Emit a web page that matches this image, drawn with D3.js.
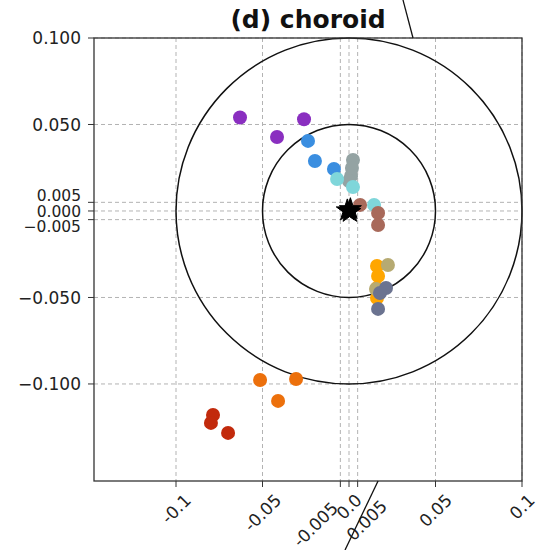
<!DOCTYPE html>
<html>
<head>
<meta charset="utf-8">
<script src="https://cdn.jsdelivr.net/npm/d3@7"></script>
<style>
  html, body { margin: 0; padding: 0; background: #fff; }
  svg { display: block; font-family: "DejaVu Sans", sans-serif; }
</style>
</head>
<body>
<div id="chart"></div>
<script>
// --- data ---
const title = '(d) choroid';
const xTicks = [-0.1, -0.05, -0.005, 0.0, 0.005, 0.05, 0.1];
const xTickLabels = ['-0.1', '-0.05', '-0.005', '0.0', '0.005', '0.05', '0.1'];
const yTicks = [0.1, 0.05, 0.005, 0.0, -0.005, -0.05, -0.1];
const yTickLabels = ['0.100', '0.050', '0.005', '0.000', '\u22120.005', '\u22120.050', '\u22120.100'];
const circleRadii = [0.05, 0.1];

// groups drawn in this order, later ones on top
const groupNames = ['purple', 'blue', 'gray', 'teal', 'brown', 'orange', 'khaki', 'slate', 'orangered', 'darkred'];
const groupColors = ['#8a2fc0', '#3a8ee0', '#94a3a3', '#7fd6da', '#a8695a', '#ffa600', '#b6aa72', '#6b7390', '#ec700c', '#c22a0c'];
const groupX = [
  [-0.063, -0.0416, -0.026],
  [-0.0237, -0.0197, -0.0087],
  [0.0023, 0.0017, 0.0012, 0.0],
  [-0.0069, 0.0023, 0.0145],
  [0.0064, 0.0168, 0.0168],
  [0.0162, 0.0168, 0.0162, 0.0162],
  [0.0225, 0.0156],
  [0.0214, 0.0179, 0.0168],
  [-0.0514, -0.0306, -0.041],
  [-0.0786, -0.0798, -0.0699]
];
const groupY = [
  [0.054, 0.0428, 0.053],
  [0.0405, 0.0289, 0.0243],
  [0.0295, 0.0249, 0.0202, 0.0173],
  [0.0185, 0.0139, 0.0035],
  [0.0035, -0.0012, -0.0081],
  [-0.0318, -0.0376, -0.0445, -0.0503],
  [-0.0312, -0.0451],
  [-0.0445, -0.0474, -0.0566],
  [-0.0977, -0.0971, -0.1098],
  [-0.1179, -0.1225, -0.1283]
];
const starX = [-0.001, 0.0008, 0.0005];
const starY = [0.0003, 0.001, -0.0006];
// stray lines from neighbouring panels (data coords)
const strayLines = [
  [[0.037, 0.1], [0.0312, 0.122]],
  [[0.0168, -0.1561], [-0.0023, -0.196]]
];

// --- layout ---
const width = 543, height = 550;
const plot = { left: 94, right: 522, top: 38, bottom: 481 };
// small nudges so the crowded labels near zero stay readable (px)
const yLabelShift = { '0.005': -7, '0': 0, '-0.005': 7 };
const yLabelSmall = ['0.005', '0', '-0.005'];
const xLabelShift = { '-0.005': [-25, 8], '0.005': [9, 6] };

const svg = d3.select('#chart').append('svg')
  .attr('width', width)
  .attr('height', height);

const x = d3.scaleLinear().domain([-0.1474, 0.1]).range([plot.left, plot.right]);
const y = d3.scaleLinear().domain([-0.1561, 0.1]).range([plot.bottom, plot.top]);

// grid
const grid = svg.append('g').attr('class', 'grid')
  .attr('stroke', '#b3b3b3').attr('stroke-width', 1).attr('stroke-dasharray', '4,3');
grid.selectAll('line.gx').data(xTicks).join('line')
  .attr('x1', d => x(d)).attr('x2', d => x(d))
  .attr('y1', plot.top).attr('y2', plot.bottom);
grid.selectAll('line.gy').data(yTicks).join('line')
  .attr('class', 'gy')
  .attr('x1', plot.left).attr('x2', plot.right)
  .attr('y1', d => y(d)).attr('y2', d => y(d));

// reference circles
svg.append('g').selectAll('circle').data(circleRadii).join('circle')
  .attr('cx', x(0)).attr('cy', y(0))
  .attr('r', d => x(d) - x(0))
  .attr('fill', 'none').attr('stroke', '#111').attr('stroke-width', 1.5);

// points
const pts = svg.append('g').attr('class', 'points');
groupNames.forEach((name, gi) => {
  const data = groupX[gi].map((v, i) => ({ x: v, y: groupY[gi][i] }));
  pts.append('g').attr('class', name).selectAll('circle').data(data).join('circle')
    .attr('cx', d => x(d.x)).attr('cy', d => y(d.y))
    .attr('r', 7)
    .attr('fill', groupColors[gi]);
});

// stars
const star = d3.symbol().type(d3.symbolStar).size(150);
svg.append('g').selectAll('path').data(starX.map((v, i) => [v, starY[i]])).join('path')
  .attr('d', star)
  .attr('transform', d => `translate(${x(d[0])},${y(d[1])})`)
  .attr('fill', '#000').attr('stroke', '#000').attr('stroke-width', 1);

// frame
svg.append('rect')
  .attr('x', plot.left).attr('y', plot.top)
  .attr('width', plot.right - plot.left).attr('height', plot.bottom - plot.top)
  .attr('fill', 'none').attr('stroke', '#333').attr('stroke-width', 1.3);

// y axis
const yAxis = svg.append('g');
yAxis.selectAll('line').data(yTicks).join('line')
  .attr('x1', plot.left - 6).attr('x2', plot.left)
  .attr('y1', d => y(d)).attr('y2', d => y(d))
  .attr('stroke', '#333').attr('stroke-width', 1);
yAxis.selectAll('text').data(yTicks).join('text')
  .attr('x', plot.left - 13)
  .attr('y', d => y(d) + (yLabelShift[String(d)] || 0))
  .attr('dy', '0.36em')
  .attr('text-anchor', 'end')
  .attr('font-size', d => yLabelSmall.includes(String(d)) ? 15.5 : 17)
  .attr('fill', '#222')
  .text((d, i) => yTickLabels[i]);

// x axis, labels rotated 45deg and centred on the tick
const xAxis = svg.append('g');
xAxis.selectAll('line').data(xTicks).join('line')
  .attr('x1', d => x(d)).attr('x2', d => x(d))
  .attr('y1', plot.bottom).attr('y2', plot.bottom + 6)
  .attr('stroke', '#333').attr('stroke-width', 1);
xAxis.selectAll('text').data(xTicks).join('text')
  .attr('text-anchor', 'middle')
  .attr('dy', '0.36em')
  .attr('font-size', 17)
  .attr('fill', '#222')
  .text((d, i) => xTickLabels[i])
  .each(function(d, i) {
    const w = this.getComputedTextLength();
    const half = (w + 17) * 0.7071 / 2;
    const s = xLabelShift[xTickLabels[i]] || [0, 0];
    d3.select(this).attr('transform',
      `translate(${x(d) + s[0]},${plot.bottom + 10 + half + s[1]}) rotate(-45)`);
  });

// stray lines
svg.append('g').selectAll('line').data(strayLines).join('line')
  .attr('x1', d => x(d[0][0])).attr('y1', d => y(d[0][1]))
  .attr('x2', d => x(d[1][0])).attr('y2', d => y(d[1][1]))
  .attr('stroke', '#111').attr('stroke-width', 1.3);

// title
svg.append('text')
  .attr('x', (plot.left + plot.right) / 2)
  .attr('y', 28)
  .attr('text-anchor', 'middle')
  .attr('font-size', 25)
  .attr('font-weight', 'bold')
  .attr('fill', '#111')
  .text(title);
</script>
</body>
</html>
